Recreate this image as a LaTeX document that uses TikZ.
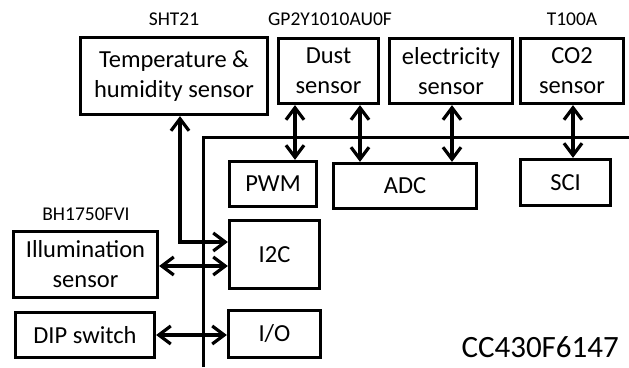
\documentclass[tikz,border=0pt]{standalone}
\usepackage{fontspec}
\setmainfont{Carlito}
\usetikzlibrary{arrows.meta}
\begin{document}
\begin{tikzpicture}[x=1pt,y=-1pt,
  box/.style={draw, line width=3.2pt, inner sep=0pt, align=center,
    font=\fontsize{24.5}{30}\selectfont},
  lbl/.style={inner sep=0pt, font=\fontsize{19.5}{22}\selectfont},
  arr/.style={line width=3.2pt,
    {Straight Barb[length=12pt,width=18pt]}-{Straight Barb[length=12pt,width=18pt]}},
  bus/.style={line width=3.2pt}
]
\useasboundingbox (0,0) rectangle (629,367);

% sensors
\node[box, minimum width=187pt, minimum height=77pt] (temp) at (174,76) {Temperature \&\\humidity sensor};
\node[box, minimum width=100pt, minimum height=65pt] (dust) at (328.5,71) {Dust\\sensor};
\node[box, minimum width=123pt, minimum height=65pt] (elec) at (451,71) {electricity\\sensor};
\node[box, minimum width=103pt, minimum height=65pt] (co2) at (572,71) {CO2\\sensor};
\node[box, minimum width=144pt, minimum height=66pt] (illum) at (85.5,264.5) {Illumination\\sensor};
\node[box, minimum width=139pt, minimum height=45pt] (dip) at (85,335) {DIP switch};

% MCU peripherals
\node[box, minimum width=87pt, minimum height=45pt] (pwm) at (273,184) {PWM};
\node[box, minimum width=143pt, minimum height=45pt] (adc) at (405,186) {ADC};
\node[box, minimum width=90pt, minimum height=46pt] (sci) at (565.5,182.5) {SCI};
\node[box, minimum width=90pt, minimum height=68pt] (i2c) at (274.5,254.5) {I2C};
\node[box, minimum width=92pt, minimum height=47pt] (io) at (274.5,334) {I/O};

% part labels
\node[lbl] (lsht) at (174,19) {SHT21};
\node[lbl] (lgp) at (330,19) {GP2Y1010AU0F};
\node[lbl] (lt) at (572,19) {T100A};
\node[lbl] (lbh) at (86,214) {BH1750FVI};
\node[anchor=base east, inner sep=0pt, font=\fontsize{31}{36}\selectfont] (mcu) at (619,357) {CC430F6147};

% MCU outline
\coordinate (mA) at (203.5,367);
\coordinate (mB) at (203.5,137.5);
\coordinate (mC) at (629,137.5);
\draw[bus] (mA) -- (mB) -- (mC);

% connectors
\draw[arr] ([xshift=-33.5pt]dust.south) -- ([xshift=-33.5pt]dust.south |- pwm.north);
\draw[arr] ([xshift=31.5pt]dust.south) -- ([xshift=31.5pt]dust.south |- adc.north);
\draw[arr] ([xshift=1pt]elec.south) -- ([xshift=1pt]elec.south |- adc.north);
\draw[arr] ([xshift=1pt]co2.south) -- ([xshift=1pt]co2.south |- sci.north);
\draw[arr] ([xshift=6pt]temp.south) |- ([yshift=12.5pt]i2c.west);
\draw[arr] ([yshift=-1.5pt]illum.east) -- ([yshift=-1.5pt]illum.east -| i2c.west);
\draw[arr] (dip.east) -- (dip.east -| io.west);
\end{tikzpicture}
\end{document}
